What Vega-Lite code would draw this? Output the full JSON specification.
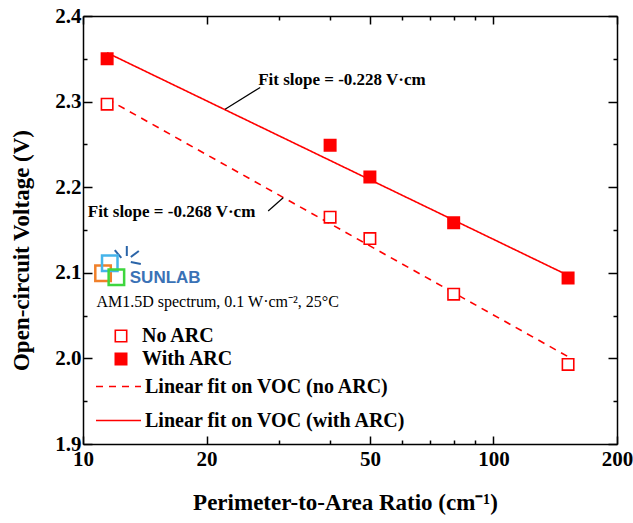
{
  "$schema": "https://vega.github.io/schema/vega-lite/v6.json",
  "width": 534,
  "height": 428,
  "autosize": {"type": "none"},
  "padding": {"left": 83, "top": 16, "right": 16, "bottom": 79},
  "background": "white",
  "datasets": {
    "pts": [
      {"x": 11.45, "y": 2.297, "series": "No ARC"},
      {"x": 40, "y": 2.165, "series": "No ARC"},
      {"x": 50, "y": 2.140, "series": "No ARC"},
      {"x": 80, "y": 2.075, "series": "No ARC"},
      {"x": 152, "y": 1.993, "series": "No ARC"},
      {"x": 11.45, "y": 2.350, "series": "With ARC"},
      {"x": 40, "y": 2.249, "series": "With ARC"},
      {"x": 50, "y": 2.212, "series": "With ARC"},
      {"x": 80, "y": 2.1585, "series": "With ARC"},
      {"x": 152, "y": 2.094, "series": "With ARC"}
    ],
    "fits": [
      {"x": 11.45, "y": 2.303, "fit": "Linear fit on VOC (no ARC)"},
      {"x": 152, "y": 2.002, "fit": "Linear fit on VOC (no ARC)"},
      {"x": 11.45, "y": 2.357, "fit": "Linear fit on VOC (with ARC)"},
      {"x": 152, "y": 2.097, "fit": "Linear fit on VOC (with ARC)"}
    ],
    "leaders": [
      {"x": 22.19, "y": 2.291, "x2": 27.02, "y2": 2.3166},
      {"x": 28.26, "y": 2.1722, "x2": 30.74, "y2": 2.1876}
    ],
    "notes": [
      {"x": 26.71, "y": 2.3252, "label": "Fit slope = -0.228 V·cm"},
      {"x": 10.27, "y": 2.1714, "label": "Fit slope = -0.268 V·cm"}
    ],
    "cond": [
      {"x": 10.78, "y": 2.0662, "label": "AM1.5D spectrum, 0.1 W·cm⁻², 25°C"}
    ],
    "logo": [
      {"x": 11.19, "y": 2.0994, "part": "orange"},
      {"x": 11.62, "y": 2.1111, "part": "blue"},
      {"x": 12.06, "y": 2.0947, "part": "green"}
    ],
    "rays": [
      {"x": 11.952, "y": 2.1266, "x2": 12.397, "y2": 2.1173},
      {"x": 12.786, "y": 2.1313, "x2": 12.786, "y2": 2.1196},
      {"x": 13.077, "y": 2.1185, "x2": 13.678, "y2": 2.1255},
      {"x": 13.077, "y": 2.1126, "x2": 13.833, "y2": 2.1103}
    ],
    "brand": [
      {"x": 13.0, "y": 2.0936, "label": "SUNLAB"}
    ]
  },
  "layer": [
    {
      "data": {"name": "fits"},
      "mark": {"type": "line", "color": "red", "strokeWidth": 1.6},
      "encoding": {
        "x": {
          "field": "x", "type": "quantitative",
          "scale": {"type": "log", "domain": [10, 200], "nice": false},
          "axis": {
            "orient": "bottom",
            "title": "Perimeter-to-Area Ratio (cm⁻¹)",
            "values": [10, 20, 30, 40, 50, 60, 70, 80, 90, 100, 200],
            "labelExpr": "indexof([10,20,50,100,200], datum.value) >= 0 ? format(datum.value, 'd') : ''",
            "tickSize": {"condition": {"test": "indexof([10,20,50,100,200], datum.value) >= 0", "value": -8}, "value": -4},
            "labelPadding": 12,
            "labelFlush": false,
            "labelOverlap": false,
            "titleY": 58,
            "titleX": 262,
            "titleBaseline": "middle"
          }
        },
        "y": {
          "field": "y", "type": "quantitative",
          "scale": {"domain": [1.9, 2.4], "nice": false, "zero": false},
          "axis": {
            "orient": "left",
            "title": "Open-circuit Voltage (V)",
            "values": [1.9, 1.95, 2.0, 2.05, 2.1, 2.15, 2.2, 2.25, 2.3, 2.35, 2.4],
            "labelExpr": "abs(datum.value * 10 - round(datum.value * 10)) < 0.01 ? format(datum.value, '.1f') : ''",
            "tickSize": {"condition": {"test": "abs(datum.value * 10 - round(datum.value * 10)) < 0.01", "value": -9}, "value": -4},
            "labelPadding": 11,
            "labelFlush": false,
            "labelOverlap": false,
            "titleX": -62,
            "titleY": 234,
            "titleBaseline": "middle",
            "titleAlign": "center"
          }
        },
        "strokeDash": {
          "field": "fit", "type": "nominal",
          "scale": {"domain": ["Linear fit on VOC (no ARC)", "Linear fit on VOC (with ARC)"], "range": [[7, 6], [1, 0]]},
          "legend": {
            "orient": "none",
            "legendX": 12,
            "legendY": 347,
            "title": null,
            "symbolType": "stroke",
            "symbolSize": 2025,
            "symbolStrokeColor": "red",
            "symbolStrokeWidth": 1.6,
            "labelOffset": 3,
            "rowPadding": -12,
            "padding": 0
          }
        }
      }
    },
    {
      "data": {"name": "pts"},
      "mark": {"type": "point", "shape": "square", "size": 130, "stroke": "red", "strokeWidth": 1.6, "opacity": 1},
      "encoding": {
        "x": {
          "field": "x", "type": "quantitative",
          "axis": {
            "orient": "top", "title": null, "labels": false,
            "values": [10, 20, 30, 40, 50, 60, 70, 80, 90, 100, 200],
            "tickSize": {"condition": {"test": "indexof([10,20,50,100,200], datum.value) >= 0", "value": -8}, "value": -4}
          }
        },
        "y": {
          "field": "y", "type": "quantitative",
          "axis": {
            "orient": "right", "title": null, "labels": false,
            "values": [1.9, 1.95, 2.0, 2.05, 2.1, 2.15, 2.2, 2.25, 2.3, 2.35, 2.4],
            "tickSize": {"condition": {"test": "abs(datum.value * 10 - round(datum.value * 10)) < 0.01", "value": -9}, "value": -4}
          }
        },
        "fill": {
          "field": "series", "type": "nominal",
          "scale": {"domain": ["No ARC", "With ARC"], "range": ["white", "red"]},
          "legend": {
            "orient": "none",
            "legendX": 12,
            "legendY": 310,
            "title": null,
            "symbolType": "square",
            "symbolSize": 130,
            "symbolStrokeColor": "red",
            "symbolStrokeWidth": 1.6,
            "symbolOffset": 16,
            "labelOffset": 11,
            "rowPadding": 3,
            "padding": 0
          }
        }
      }
    },
    {
      "data": {"name": "leaders"},
      "mark": {"type": "rule", "color": "black", "strokeWidth": 1.2},
      "encoding": {
        "x": {"field": "x", "type": "quantitative", "axis": null},
        "y": {"field": "y", "type": "quantitative", "axis": null},
        "x2": {"field": "x2"},
        "y2": {"field": "y2"}
      }
    },
    {
      "data": {"name": "notes"},
      "mark": {"type": "text", "align": "left", "baseline": "middle", "font": "Liberation Serif", "fontWeight": "bold", "fontSize": 17, "color": "black"},
      "encoding": {
        "x": {"field": "x", "type": "quantitative", "axis": null},
        "y": {"field": "y", "type": "quantitative", "axis": null},
        "text": {"field": "label"}
      }
    },
    {
      "data": {"name": "cond"},
      "mark": {"type": "text", "align": "left", "baseline": "middle", "font": "Liberation Serif", "fontSize": 16, "color": "black"},
      "encoding": {
        "x": {"field": "x", "type": "quantitative", "axis": null},
        "y": {"field": "y", "type": "quantitative", "axis": null},
        "text": {"field": "label"}
      }
    },
    {
      "data": {"name": "rays"},
      "mark": {"type": "rule", "color": "#2a64a8", "strokeWidth": 2},
      "encoding": {
        "x": {"field": "x", "type": "quantitative", "axis": null},
        "y": {"field": "y", "type": "quantitative", "axis": null},
        "x2": {"field": "x2"},
        "y2": {"field": "y2"}
      }
    },
    {
      "data": {"name": "logo"},
      "mark": {"type": "point", "shape": "square", "size": 240, "strokeWidth": 2.5, "filled": false, "opacity": 1},
      "encoding": {
        "x": {"field": "x", "type": "quantitative", "axis": null},
        "y": {"field": "y", "type": "quantitative", "axis": null},
        "stroke": {
          "field": "part", "type": "nominal",
          "scale": {"domain": ["orange", "blue", "green"], "range": ["#f0802a", "#45b4ea", "#3ed63e"]},
          "legend": null
        }
      }
    },
    {
      "data": {"name": "brand"},
      "mark": {"type": "text", "align": "left", "baseline": "middle", "font": "Liberation Sans", "fontWeight": "bold", "fontSize": 17, "color": "#3a72b6"},
      "encoding": {
        "x": {"field": "x", "type": "quantitative", "axis": null},
        "y": {"field": "y", "type": "quantitative", "axis": null},
        "text": {"field": "label"}
      }
    }
  ],
  "resolve": {"axis": {"x": "independent", "y": "independent"}},
  "config": {
    "view": {"stroke": null},
    "axis": {
      "grid": false,
      "domainColor": "black",
      "domainWidth": 1.5,
      "tickColor": "black",
      "tickWidth": 1.5,
      "labelFont": "Liberation Serif",
      "labelFontWeight": "bold",
      "labelFontSize": 21,
      "labelColor": "black",
      "titleFont": "Liberation Serif",
      "titleFontWeight": "bold",
      "titleFontSize": 23,
      "titleColor": "black"
    },
    "legend": {
      "labelFont": "Liberation Serif",
      "labelFontWeight": "bold",
      "labelFontSize": 20,
      "labelColor": "black",
      "labelLimit": 400
    }
  }
}
